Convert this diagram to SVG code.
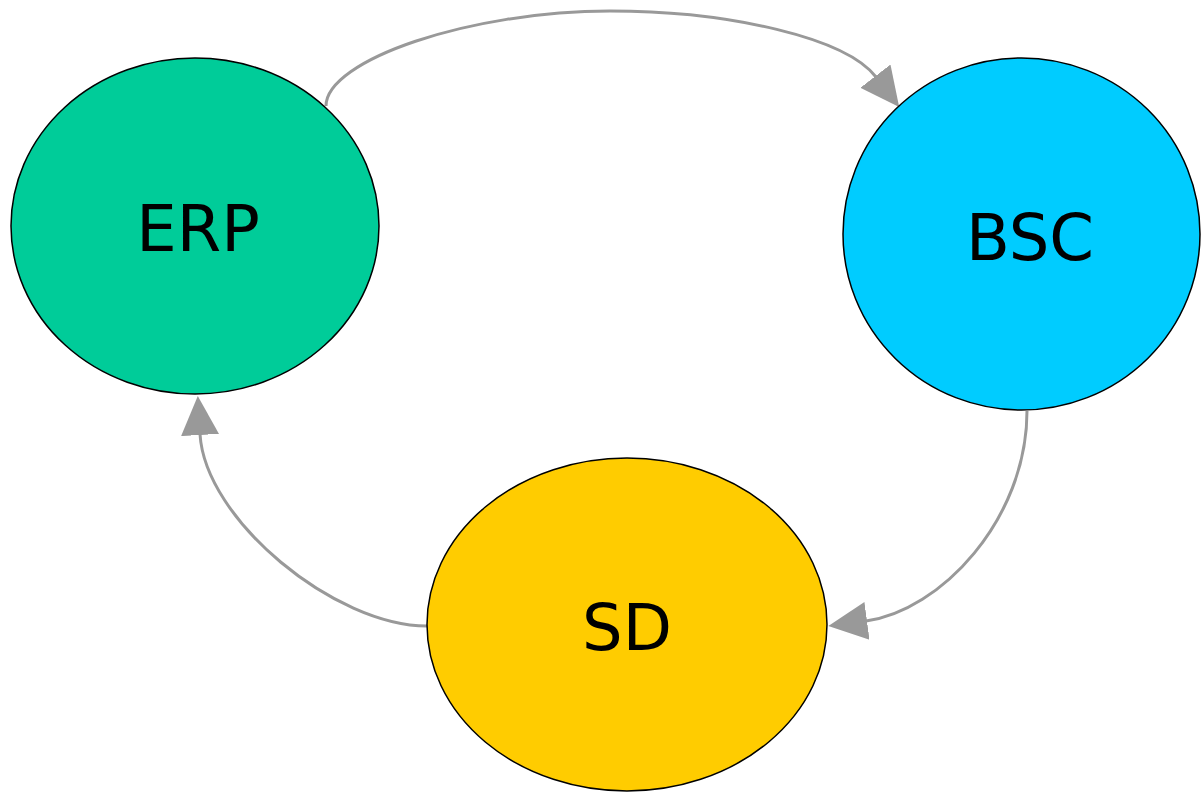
<svg xmlns="http://www.w3.org/2000/svg" width="1201" height="792" viewBox="0 0 1201 792">
  <defs>
    <style>
      .node-shape { stroke: #000000; stroke-width: 1.5; }
      .label { font-family: "DejaVu Sans", Verdana, sans-serif; font-size: 64px; fill: #000000; text-anchor: middle; }
      .edge { fill: none; stroke: #999999; stroke-width: 3; }
    </style>
    <marker id="arrow" markerUnits="userSpaceOnUse" markerWidth="40" markerHeight="40" viewBox="0 0 40 40" refX="1" refY="20" orient="auto">
      <path d="M0,1 L39,20 L0,39 Z" fill="#999999"/>
    </marker>
  </defs>

  <rect width="1201" height="792" fill="#ffffff"/>

  <g id="connectors">
    <path class="edge" marker-end="url(#arrow)" d="M326,106 C326,60 470,11 610,11 C730,11 846,38 876,77"/>
    <path class="edge" marker-end="url(#arrow)" d="M1027,411 C1027,520 940,611 866,621"/>
    <path class="edge" marker-end="url(#arrow)" d="M427,626 C335,626 205,520 200,434"/>
  </g>

  <g id="node-erp">
    <ellipse class="node-shape" cx="195" cy="226" rx="184" ry="168" fill="#00CC99"/>
    <text class="label" x="198" y="251">ERP</text>
  </g>

  <g id="node-bsc">
    <ellipse class="node-shape" cx="1021.5" cy="234" rx="178.5" ry="176" fill="#00CCFF"/>
    <text class="label" x="1030" y="260">BSC</text>
  </g>

  <g id="node-sd">
    <ellipse class="node-shape" cx="627" cy="624.5" rx="200" ry="166.5" fill="#FFCC00"/>
    <text class="label" x="627" y="650">SD</text>
  </g>
</svg>
